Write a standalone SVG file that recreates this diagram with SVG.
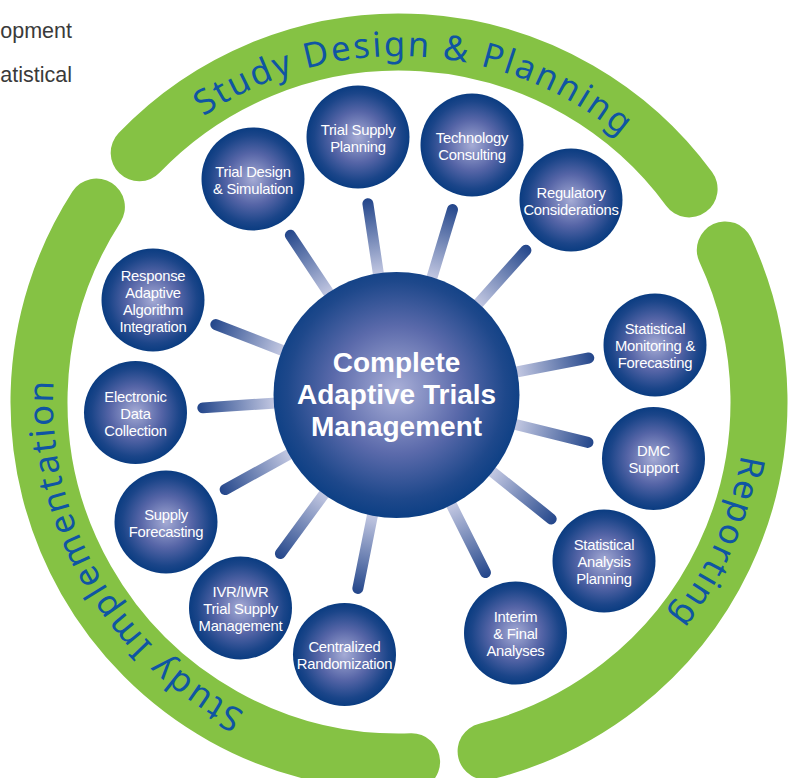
<svg xmlns="http://www.w3.org/2000/svg" width="789" height="778" viewBox="0 0 789 778">
<defs>
<radialGradient id="ng" cx="50%" cy="50%" r="50%">
<stop offset="0" stop-color="#a5abd5"/>
<stop offset="0.5" stop-color="#5665a7"/>
<stop offset="0.85" stop-color="#1b4589"/>
<stop offset="1" stop-color="#0a3c81"/>
</radialGradient>
<radialGradient id="cg" cx="50%" cy="48%" r="52%">
<stop offset="0" stop-color="#aab0d8"/>
<stop offset="0.5" stop-color="#5b6aab"/>
<stop offset="0.85" stop-color="#1e488b"/>
<stop offset="1" stop-color="#0c3f84"/>
</radialGradient>
<linearGradient id="sg" x1="0" y1="0" x2="1" y2="0">
<stop offset="0.22" stop-color="#c3c8e2"/>
<stop offset="1" stop-color="#22458a"/>
</linearGradient>
<path id="tpTop" d="M 53 402 A 346 346 0 0 1 745 402"/>
<path id="tpLeft" d="M 399 748 A 346 346 0 0 1 399 56"/>
<path id="tpRight" d="M 399 56 A 346 346 0 0 1 399 748"/>
</defs>
<style>
.band{fill:none;stroke:#85c244;stroke-width:57;stroke-linecap:round}
.arct{font-family:"Noto Sans","Open Sans",sans-serif;font-size:34.5px;letter-spacing:2.2px;fill:#0f55a3}
.spoke{fill:url(#sg)}
.node{fill:url(#ng)}
.nt{font-family:"Liberation Sans",Arial,sans-serif;font-size:14.8px;letter-spacing:-0.25px;fill:#ffffff;text-anchor:middle}
.ct{font-family:"Liberation Sans",Arial,sans-serif;font-size:28px;font-weight:bold;fill:#ffffff;text-anchor:middle}
.side{font-family:"Liberation Sans",Arial,sans-serif;font-size:21.5px;fill:#3a3a3a;text-anchor:end}
</style>
<rect width="789" height="778" fill="#ffffff"/>
<g id="side-text">
<text class="side" x="72" y="37.5">opment</text>
<text class="side" x="72" y="82">atistical</text>
</g>
<g id="bands">
<g id="band-top">
<path class="band" d="M 139.2 152.8 A 360 360 0 0 1 689.1 188.9"/>
<text class="arct"><textPath href="#tpTop" startOffset="51.6%" text-anchor="middle">Study Design &amp; Planning</textPath></text>
</g>
<g id="band-right">
<path class="band" d="M 725.3 249.9 A 360 360 0 0 1 486.1 751.3"/>
<text class="arct"><textPath href="#tpRight" startOffset="63.2%" text-anchor="middle">Reporting</textPath></text>
</g>
<g id="band-left">
<path class="band" d="M 411.6 761.8 A 360 360 0 0 1 96.4 207"/>
<text class="arct"><textPath href="#tpLeft" startOffset="33.4%" text-anchor="middle">Study Implementation</textPath></text>
</g>
</g>
<g id="connectors">
<rect class="spoke" x="100" y="-5.5" width="97.3" height="11" rx="5.5" transform="translate(396.5 395) rotate(-123.6)"/>
<rect class="spoke" x="100" y="-5.5" width="98.9" height="11" rx="5.5" transform="translate(396.5 395) rotate(-98.5)"/>
<rect class="spoke" x="100" y="-5.5" width="99.2" height="11" rx="5.5" transform="translate(396.5 395) rotate(-73.2)"/>
<rect class="spoke" x="100" y="-5.5" width="99.7" height="11" rx="5.5" transform="translate(396.5 395) rotate(-48.2)"/>
<rect class="spoke" x="100" y="-5.5" width="101.3" height="11" rx="5.5" transform="translate(396.5 395) rotate(-10.9)"/>
<rect class="spoke" x="100" y="-5.5" width="102.7" height="11" rx="5.5" transform="translate(396.5 395) rotate(13.9)"/>
<rect class="spoke" x="100" y="-5.5" width="103.7" height="11" rx="5.5" transform="translate(396.5 395) rotate(38.7)"/>
<rect class="spoke" x="100" y="-5.5" width="104.1" height="11" rx="5.5" transform="translate(396.5 395) rotate(63.4)"/>
<rect class="spoke" x="100" y="-5.5" width="102.7" height="11" rx="5.5" transform="translate(396.5 395) rotate(101.3)"/>
<rect class="spoke" x="100" y="-5.5" width="102" height="11" rx="5.5" transform="translate(396.5 395) rotate(126.2)"/>
<rect class="spoke" x="100" y="-5.5" width="101.2" height="11" rx="5.5" transform="translate(396.5 395) rotate(151.1)"/>
<rect class="spoke" x="100" y="-5.5" width="99.6" height="11" rx="5.5" transform="translate(396.5 395) rotate(176.2)"/>
<rect class="spoke" x="100" y="-5.5" width="99.4" height="11" rx="5.5" transform="translate(396.5 395) rotate(-158.7)"/>
</g>
<g id="center">
<circle cx="396.5" cy="395" r="123" fill="url(#cg)"/>
<text class="ct" x="396.5" y="372">Complete<tspan x="396.5" dy="32">Adaptive Trials</tspan><tspan x="396.5" dy="32">Management</tspan></text>
</g>
<g id="n-trial-design">
<circle class="node" cx="253" cy="179" r="51.5"/>
<text class="nt" x="253" y="176.5">Trial Design<tspan x="253" dy="17">&amp; Simulation</tspan></text>
</g>
<g id="n-trial-supply-planning">
<circle class="node" cx="358" cy="137" r="51.5"/>
<text class="nt" x="358" y="134.5">Trial Supply<tspan x="358" dy="17">Planning</tspan></text>
</g>
<g id="n-technology">
<circle class="node" cx="472" cy="145" r="51.5"/>
<text class="nt" x="472" y="142.5">Technology<tspan x="472" dy="17">Consulting</tspan></text>
</g>
<g id="n-regulatory">
<circle class="node" cx="571" cy="200" r="51.5"/>
<text class="nt" x="571" y="197.5">Regulatory<tspan x="571" dy="17">Considerations</tspan></text>
</g>
<g id="n-stat-monitoring">
<circle class="node" cx="655" cy="345" r="51.5"/>
<text class="nt" x="655" y="334">Statistical<tspan x="655" dy="17">Monitoring &amp;</tspan><tspan x="655" dy="17">Forecasting</tspan></text>
</g>
<g id="n-dmc">
<circle class="node" cx="653.5" cy="458.5" r="51.5"/>
<text class="nt" x="653.5" y="456">DMC<tspan x="653.5" dy="17">Support</tspan></text>
</g>
<g id="n-stat-analysis">
<circle class="node" cx="604" cy="561" r="51.5"/>
<text class="nt" x="604" y="550">Statistical<tspan x="604" dy="17">Analysis</tspan><tspan x="604" dy="17">Planning</tspan></text>
</g>
<g id="n-interim">
<circle class="node" cx="515.5" cy="633" r="51.5"/>
<text class="nt" x="515.5" y="622">Interim<tspan x="515.5" dy="17">&amp; Final</tspan><tspan x="515.5" dy="17">Analyses</tspan></text>
</g>
<g id="n-centralized">
<circle class="node" cx="344.5" cy="654.5" r="51.5"/>
<text class="nt" x="344.5" y="652">Centralized<tspan x="344.5" dy="17">Randomization</tspan></text>
</g>
<g id="n-ivr">
<circle class="node" cx="240.5" cy="608" r="51.5"/>
<text class="nt" x="240.5" y="597">IVR/IWR<tspan x="240.5" dy="17">Trial Supply</tspan><tspan x="240.5" dy="17">Management</tspan></text>
</g>
<g id="n-supply-forecasting">
<circle class="node" cx="166" cy="522" r="51.5"/>
<text class="nt" x="166" y="519.5">Supply<tspan x="166" dy="17">Forecasting</tspan></text>
</g>
<g id="n-edc">
<circle class="node" cx="135.5" cy="412.5" r="51.5"/>
<text class="nt" x="135.5" y="401.5">Electronic<tspan x="135.5" dy="17">Data</tspan><tspan x="135.5" dy="17">Collection</tspan></text>
</g>
<g id="n-response">
<circle class="node" cx="153" cy="300" r="51.5"/>
<text class="nt" x="153" y="280.5">Response<tspan x="153" dy="17">Adaptive</tspan><tspan x="153" dy="17">Algorithm</tspan><tspan x="153" dy="17">Integration</tspan></text>
</g>
</svg>
